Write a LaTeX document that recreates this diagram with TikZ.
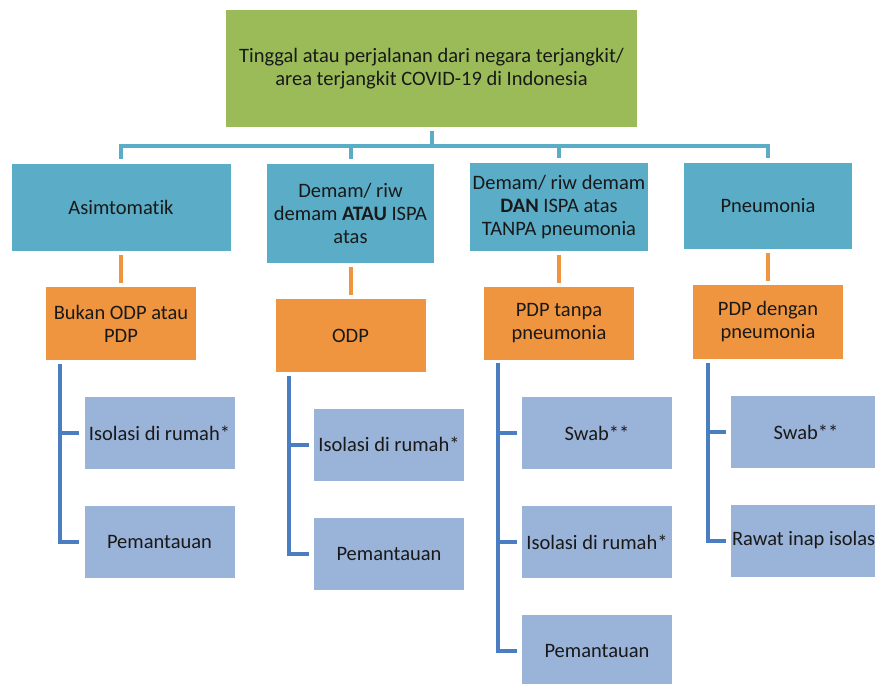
\documentclass[tikz,border=0pt]{standalone}
\usepackage{fontspec}
\setmainfont{Carlito}[Ligatures = NoCommon]
\definecolor{topgreen}{RGB}{155,187,89}
\definecolor{condcyan}{RGB}{90,172,199}
\definecolor{statorange}{RGB}{240,149,63}
\definecolor{actblue}{RGB}{154,179,217}
\definecolor{lineblue}{RGB}{74,126,193}
\begin{document}
\begin{tikzpicture}[
                x = 1pt, y = -1pt,
                every node/.style = {font = \fontsize{20.5}{23}\selectfont, text = black!90, align = center, inner sep = 0pt},
                topbox/.style = {fill = topgreen, minimum width = 411pt, minimum height = 117pt},
                cond/.style = {fill = condcyan},
                stat/.style = {fill = statorange, minimum width = 150pt, minimum height = 73pt},
                act/.style = {fill = actblue, minimum width = 150pt, minimum height = 72pt},
                cline/.style = {draw = condcyan, line width = 4pt, shorten < = 4pt},
                oline/.style = {draw = statorange, line width = 4pt, shorten < = 4pt, shorten > = 4pt},
                bline/.style = {draw = lineblue, line width = 4pt, shorten > = 5pt},
            ]
            \useasboundingbox (0,0) rectangle (875,684);
            \clip (0,0) rectangle (875,684);

            \node (top) [topbox] at (431.5,68.5) {Tinggal atau perjalanan dari negara terjangkit/\\area terjangkit COVID-19 di Indonesia};

            \node (c1) [cond, minimum width = 219pt, minimum height = 87pt] at (121,207.5) {Asimtomatik};
            \node (c2) [cond, minimum width = 167pt, minimum height = 99pt] at (350.5,213.5) {Demam/ riw\\demam \textbf{ATAU} ISPA\\atas};
            \node (c3) [cond, minimum width = 178pt, minimum height = 88pt] at (559,207) {Demam/ riw demam\\\textbf{DAN} ISPA atas\\TANPA pneumonia};
            \node (c4) [cond, minimum width = 168pt, minimum height = 86pt] at (768,206) {Pneumonia};

            \node (o1) [stat] at (121,323.5) {Bukan ODP atau\\PDP};
            \node (o2) [stat] at (350.5,335.5) {ODP};
            \node (o3) [stat] at (559,323.5) {PDP tanpa\\pneumonia};
            \node (o4) [stat] at (768,322) {PDP dengan\\pneumonia};

            \node (l11) [act] at (159.5,433) {Isolasi di rumah*};
            \node (l12) [act] at (159.5,542) {Pemantauan};
            \node (l21) [act] at (389,444.5) {Isolasi di rumah*};
            \node (l22) [act] at (389,553.5) {Pemantauan};
            \node (l31) [act] at (597,433) {Swab**};
            \node (l32) [act] at (597,542) {Isolasi di rumah*};
            \node (l33) [act] at (597,651) {Pemantauan};
            \node (l41) [act] at (806,432) {Swab**};
            \node (l42) [act] at (806,540.5) {Rawat inap isolasi};

            % cabang dari kotak atas
            \coordinate (bus) at (431.5,146);
            \path[cline] (top) -- (top |- bus);
            \path[cline, shorten < = 5pt] (c1) |- (bus);
            \path[cline, shorten < = 5pt] (c4) |- (bus);
            \path[cline, shorten < = 5pt] (c2) -- (c2 |- bus);
            \path[cline, shorten < = 5pt] (c3) -- (c3 |- bus);

            \path[oline] (c1) -- (o1);
            \path[oline] (c2) -- (o2);
            \path[oline] (c3) -- (o3);
            \path[oline] (c4) -- (o4);

            % tindakan
            \coordinate (v1) at (60,364);
            \coordinate (v2) at (289,376);
            \coordinate (v3) at (498,363);
            \coordinate (v4) at (708,363);

            \path[bline] (v1) |- (l12);
            \path[bline] (v1 |- l11) -- (l11);

            \path[bline] (v2) |- (l22);
            \path[bline] (v2 |- l21) -- (l21);

            \path[bline] (v3) |- (l33);
            \path[bline] (v3 |- l31) -- (l31);
            \path[bline] (v3 |- l32) -- (l32);

            \path[bline] (v4) |- (l42);
            \path[bline] (v4 |- l41) -- (l41);
        \end{tikzpicture}
\end{document}
